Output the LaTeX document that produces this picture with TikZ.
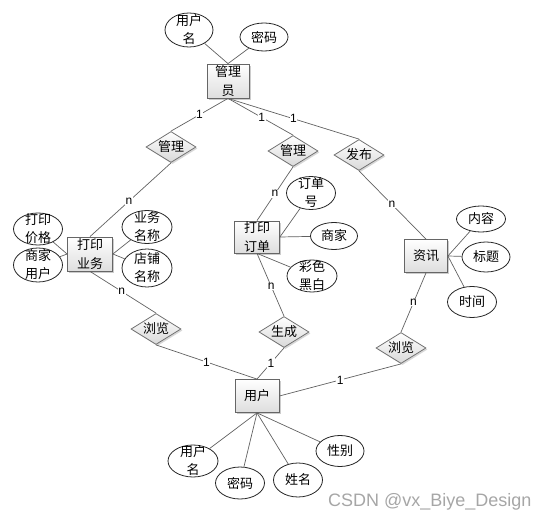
\documentclass[tikz,border=0pt]{standalone}
\usepackage{fontspec}
\setmainfont{Liberation Sans}
\newfontfamily\cjk{Noto Sans CJK SC}
\usetikzlibrary{shapes.geometric,shadows}
\begin{document}
\begin{tikzpicture}[x=1pt,y=-1pt,
  ent/.style={rectangle, draw=black!60, line width=0.8pt, top color=white, bottom color=black!13,
    drop shadow={shadow xshift=1.8pt, shadow yshift=-1.8pt, fill=black!40, opacity=0.5},
    font=\cjk\fontsize{13}{18.5}\selectfont, align=center, inner sep=0pt,
    minimum width=44pt, minimum height=33pt},
  attr/.style={ellipse, draw=black!85, line width=0.8pt, fill=white,
    font=\cjk\fontsize{13}{18}\selectfont, align=center, inner sep=0pt,
    minimum width=48pt, minimum height=30pt},
  attrtwo/.style={attr, inner ysep=-4pt},
  rel/.style={diamond, aspect=1.6, draw=black!55, line width=0.8pt, top color=white, bottom color=black!15,
    drop shadow={shadow xshift=1.5pt, shadow yshift=-1.5pt, fill=black!35, opacity=0.45},
    font=\cjk\fontsize{13}{16}\selectfont, inner sep=0pt, minimum width=50pt, minimum height=31pt},
  conn/.style={draw=black!62, line width=0.7pt},
  lab/.style={font=\fontsize{12}{12}\selectfont, fill=white, inner sep=0.6pt}
]
\useasboundingbox (0,0) rectangle (548,521);

% entities
\node[ent, minimum width=42pt, minimum height=34pt] (mgr) at (228,81) {管理\\员};
\node[ent, minimum width=45pt, minimum height=34pt] (biz) at (90,254) {打印\\业务};
\node[ent, minimum width=45pt, minimum height=32pt] (ord) at (257,237) {打印\\订单};
\node[ent, minimum width=43pt, minimum height=33pt] (info) at (426,256) {资讯};
\node[ent, minimum width=44pt, minimum height=33pt] (user) at (257,396) {用户};

% attributes
\node[attrtwo, minimum width=48pt, minimum height=34pt] (a1) at (189,30) {用户\\名};
\node[attr, minimum width=48pt, minimum height=28pt] (a2) at (264,37) {密码};
\node[attrtwo, minimum width=49pt, minimum height=32pt] (b1) at (38,229) {打印\\价格};
\node[attrtwo, minimum width=49pt, minimum height=34pt] (b2) at (38,265) {商家\\用户};
\node[attrtwo, minimum width=50pt, minimum height=33pt] (b3) at (147,227) {业务\\名称};
\node[attrtwo, minimum width=50pt, minimum height=38pt] (b4) at (147,268) {店铺\\名称};
\node[attrtwo, minimum width=49pt, minimum height=33pt] (o1) at (311,193) {订单\\号};
\node[attr, minimum width=47pt, minimum height=27pt] (o2) at (334,236) {商家};
\node[attrtwo, minimum width=50pt, minimum height=32pt] (o3) at (312,276) {彩色\\黑白};
\node[attr, minimum width=49pt, minimum height=26pt] (i1) at (481,219) {内容};
\node[attr, minimum width=48pt, minimum height=30pt] (i2) at (486,257) {标题};
\node[attr, minimum width=49pt, minimum height=31pt] (i3) at (472,302) {时间};
\node[attrtwo, minimum width=50pt, minimum height=32pt] (u1) at (193,461) {用户\\名};
\node[attr, minimum width=49pt, minimum height=32pt] (u2) at (240,483) {密码};
\node[attr, minimum width=49pt, minimum height=34pt] (u3) at (298,480) {姓名};
\node[attr, minimum width=48pt, minimum height=31pt] (u4) at (340,451) {性别};

% relationships
\node[rel] (r1) at (171,147) {管理};
\node[rel] (r2) at (293,151) {管理};
\node[rel] (r3) at (359,155) {发布};
\node[rel] (r4) at (156,329) {浏览};
\node[rel] (r5) at (284,332) {生成};
\node[rel] (r6) at (401,348) {浏览};

% attribute links
\draw[conn] (mgr.north) -- (a1);
\draw[conn] (mgr.north) -- (a2);
\draw[conn] (biz.west) -- (b1);
\draw[conn] (biz.west) -- (b2);
\draw[conn] (biz.east) -- (b3);
\draw[conn] (biz.east) -- (b4);
\draw[conn] (ord.east) -- (o1);
\draw[conn] (ord.east) -- (o2);
\draw[conn] (ord.south) -- (o3);
\draw[conn] (info.east) -- (i1);
\draw[conn] (info.east) -- (i2);
\draw[conn] (info.east) -- (i3);
\draw[conn] (user.south) -- (u1);
\draw[conn] (user.south) -- (u2);
\draw[conn] (user.south) -- (u3);
\draw[conn] (user.south) -- (u4);

% relationship links
\draw[conn] (mgr.south) -- node[lab,pos=0.5] {1} (r1.north);
\draw[conn] (mgr.south) -- node[lab,pos=0.52] {1} (r2.north);
\draw[conn] (mgr.south) -- node[lab,pos=0.5] {1} (r3.north);
\draw[conn] (r1.south) -- node[lab,pos=0.52] {n} (biz.north);
\draw[conn] (r2.south) -- node[lab,pos=0.5] {n} (ord.north);
\draw[conn] (r3.south) -- node[lab,pos=0.49] {n} (info.north);
\draw[conn] (info.south) -- node[lab,pos=0.5] {n} (r6.north);
\draw[conn] (r6.south) -- node[lab,pos=0.5] {1} (user.east);
\draw[conn] (biz.south) -- node[lab,pos=0.48] {n} (r4.north);
\draw[conn] (r4.south) -- node[lab,pos=0.5] {1} (user.north);
\draw[conn] (ord.south) -- node[lab,pos=0.53] {n} (r5.north);
\draw[conn] (r5.south) -- node[lab,pos=0.48] {1} (user.north);

% watermark
\node[anchor=base west, text=black!35, font=\fontsize{18}{18}\selectfont, inner sep=0pt] (wm) at (328,506) {CSDN @vx\_Biye\_Design};
\end{tikzpicture}
\end{document}
